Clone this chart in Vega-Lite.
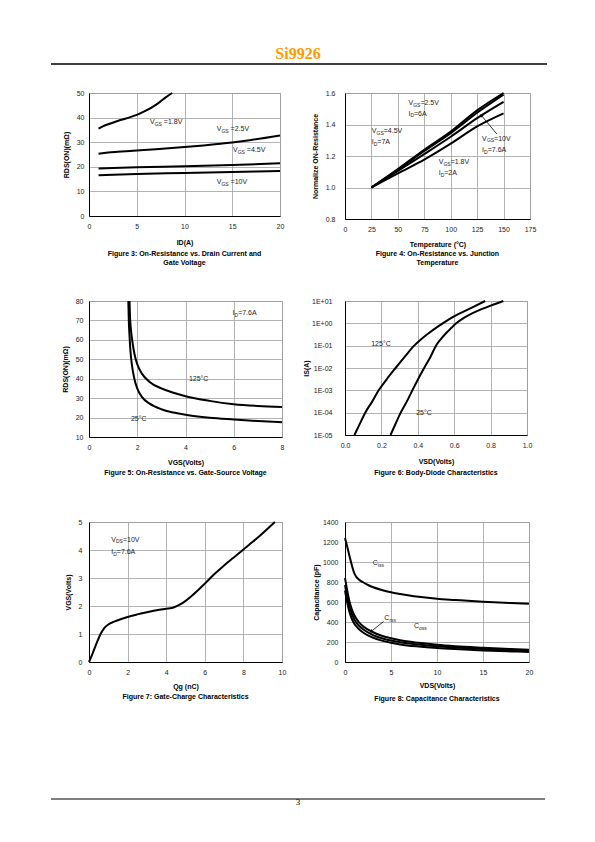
{
"$schema": "https://vega.github.io/schema/vega-lite/v6.json",
"padding": {"left": 50, "top": 44, "right": 5, "bottom": 5},
"background": "white",
"bounds": "flush",
"spacing": 0,
"columns": 4,
"align": "each",
"config": {
 "view": {"stroke": null},
 "font": "Liberation Sans",
 "axis": {"labelFont": "Liberation Sans", "labelFontSize": 7, "labelColor": "#222", "ticks": false, "domainColor": "#000", "domainWidth": 1, "gridColor": "#a0a0a0", "gridWidth": 0.8, "titleFont": "Liberation Sans", "titleFontSize": 7, "titleFontWeight": "bold", "titleColor": "#000", "labelFlush": false, "labelOverlap": false, "titleBaseline": "middle"},
 "axisX": {"labelPadding": 6},
 "axisY": {"labelPadding": 6},
 "title": {"font": "Liberation Sans", "fontSize": 7, "fontWeight": "bold", "color": "#000", "orient": "bottom", "anchor": "middle", "frame": "group", "lineHeight": 9.5, "offset": 3},
 "text": {"font": "Liberation Sans", "fontSize": 7, "fill": "#222", "align": "left", "baseline": "middle"},
 "line": {"stroke": "#000", "strokeWidth": 2, "interpolate": "monotone"}
},
"datasets": {
 "f3": [
  {"s":"1.8V","x":1,"y":35.5},{"s":"1.8V","x":1.5,"y":36.5},{"s":"1.8V","x":2,"y":37.3},{"s":"1.8V","x":3,"y":38.6},{"s":"1.8V","x":4,"y":39.8},{"s":"1.8V","x":5,"y":41.1},{"s":"1.8V","x":6,"y":42.9},{"s":"1.8V","x":7,"y":45.2},{"s":"1.8V","x":7.5,"y":46.6},{"s":"1.8V","x":8,"y":48.1},{"s":"1.8V","x":8.7,"y":50},
  {"s":"2.5V","x":1,"y":25.3},{"s":"2.5V","x":2,"y":25.8},{"s":"2.5V","x":3,"y":26.1},{"s":"2.5V","x":5,"y":26.6},{"s":"2.5V","x":7,"y":27.1},{"s":"2.5V","x":10,"y":28},{"s":"2.5V","x":12,"y":28.7},{"s":"2.5V","x":15,"y":29.9},{"s":"2.5V","x":17,"y":30.9},{"s":"2.5V","x":20,"y":32.7},
  {"s":"4.5V","x":1,"y":19.3},{"s":"4.5V","x":5,"y":19.8},{"s":"4.5V","x":10,"y":20.2},{"s":"4.5V","x":15,"y":20.7},{"s":"4.5V","x":20,"y":21.4},
  {"s":"10V","x":1,"y":16.6},{"s":"10V","x":5,"y":17.1},{"s":"10V","x":10,"y":17.5},{"s":"10V","x":15,"y":17.9},{"s":"10V","x":20,"y":18.3}
 ],
 "f3l": [
  {"x":6.38,"y":38.3,"a":"V","s":"GS","b":"=1.8V"},
  {"x":13.37,"y":35.4,"a":"V","s":"GS","b":"=2.5V"},
  {"x":15.07,"y":26.7,"a":"V","s":"GS","b":"=4.5V"},
  {"x":13.37,"y":13.7,"a":"V","s":"GS","b":"=10V"}
 ],
 "f4": [
  {"s":"2.5V","x":25,"y":1},{"s":"2.5V","x":50,"y":1.117},{"s":"2.5V","x":75,"y":1.24},{"s":"2.5V","x":100,"y":1.355},{"s":"2.5V","x":125,"y":1.49},{"s":"2.5V","x":150,"y":1.6},
  {"s":"4.5V","x":25,"y":1},{"s":"4.5V","x":50,"y":1.112},{"s":"4.5V","x":75,"y":1.232},{"s":"4.5V","x":100,"y":1.345},{"s":"4.5V","x":125,"y":1.475},{"s":"4.5V","x":150,"y":1.59},
  {"s":"10V","x":25,"y":1},{"s":"10V","x":50,"y":1.105},{"s":"10V","x":75,"y":1.212},{"s":"10V","x":100,"y":1.322},{"s":"10V","x":125,"y":1.44},{"s":"10V","x":150,"y":1.543},
  {"s":"1.8V","x":25,"y":1},{"s":"1.8V","x":50,"y":1.09},{"s":"1.8V","x":75,"y":1.177},{"s":"1.8V","x":100,"y":1.278},{"s":"1.8V","x":125,"y":1.388},{"s":"1.8V","x":150,"y":1.471}
 ],
 "f4l": [
  {"x":60,"y":1.537,"a":"V","s":"GS","b":"=2.5V"},
  {"x":60,"y":1.469,"a":"I","s":"D","b":"=6A"},
  {"x":25.3,"y":1.357,"a":"V","s":"GS","b":"=4.5V"},
  {"x":25.3,"y":1.287,"a":"I","s":"D","b":"=7A"},
  {"x":129.7,"y":1.31,"a":"V","s":"GS","b":"=10V"},
  {"x":129.7,"y":1.24,"a":"I","s":"D","b":"=7.6A"},
  {"x":88.6,"y":1.162,"a":"V","s":"GS","b":"=1.8V"},
  {"x":88.6,"y":1.092,"a":"I","s":"D","b":"=2A"}
 ],
 "f4a": [{"x":143.6,"y":1.34,"x2":129,"y2":1.458}],
 "f4h": [{"x":129,"y":1.458}],
 "f5": [
  {"s":"125","x":1.68,"y":80},{"s":"125","x":1.7,"y":72},{"s":"125","x":1.74,"y":65},{"s":"125","x":1.8,"y":59},{"s":"125","x":1.88,"y":53},{"s":"125","x":2,"y":47.5},{"s":"125","x":2.2,"y":42.5},{"s":"125","x":2.5,"y":38.5},{"s":"125","x":3,"y":35},{"s":"125","x":3.5,"y":32.8},{"s":"125","x":4,"y":31},{"s":"125","x":5,"y":28.6},{"s":"125","x":6,"y":26.9},{"s":"125","x":7,"y":26},{"s":"125","x":8,"y":25.5},
  {"s":"25","x":1.63,"y":80},{"s":"25","x":1.65,"y":70},{"s":"25","x":1.68,"y":62},{"s":"25","x":1.72,"y":54},{"s":"25","x":1.78,"y":47},{"s":"25","x":1.88,"y":40},{"s":"25","x":2,"y":35},{"s":"25","x":2.2,"y":30.5},{"s":"25","x":2.5,"y":27.3},{"s":"25","x":3,"y":24.3},{"s":"25","x":3.5,"y":22.6},{"s":"25","x":4,"y":21.4},{"s":"25","x":5,"y":19.9},{"s":"25","x":6,"y":19},{"s":"25","x":7,"y":18.2},{"s":"25","x":8,"y":17.6}
 ],
 "f5l": [
  {"x":5.95,"y":73.8,"a":"I","s":"D","b":"=7.6A"},
  {"x":4.14,"y":39.9,"a":"125°C","s":"","b":""},
  {"x":1.74,"y":19.3,"a":"25°C","s":"","b":""}
 ],
 "f6": [
  {"s":"125","x":0.052,"y":0.00001},{"s":"125","x":0.08,"y":0.00003},{"s":"125","x":0.111,"y":0.0001},{"s":"125","x":0.15,"y":0.00032},{"s":"125","x":0.185,"y":0.001},{"s":"125","x":0.23,"y":0.0032},{"s":"125","x":0.278,"y":0.01},{"s":"125","x":0.33,"y":0.033},{"s":"125","x":0.38,"y":0.1},{"s":"125","x":0.42,"y":0.2},{"s":"125","x":0.463,"y":0.38},{"s":"125","x":0.5,"y":0.63},{"s":"125","x":0.537,"y":1},{"s":"125","x":0.58,"y":1.66},{"s":"125","x":0.62,"y":2.5},{"s":"125","x":0.66,"y":3.6},{"s":"125","x":0.7,"y":5.2},{"s":"125","x":0.77,"y":10},
  {"s":"25","x":0.25,"y":0.00001},{"s":"25","x":0.278,"y":0.000032},{"s":"25","x":0.306,"y":0.0001},{"s":"25","x":0.34,"y":0.00032},{"s":"25","x":0.37,"y":0.001},{"s":"25","x":0.4,"y":0.003},{"s":"25","x":0.435,"y":0.01},{"s":"25","x":0.47,"y":0.032},{"s":"25","x":0.5,"y":0.1},{"s":"25","x":0.53,"y":0.21},{"s":"25","x":0.556,"y":0.37},{"s":"25","x":0.585,"y":0.63},{"s":"25","x":0.611,"y":1},{"s":"25","x":0.66,"y":1.9},{"s":"25","x":0.704,"y":2.95},{"s":"25","x":0.75,"y":4.3},{"s":"25","x":0.8,"y":6.2},{"s":"25","x":0.87,"y":10}
 ],
 "f6l": [
  {"x":0.144,"y":0.115,"a":"125°C"},
  {"x":0.391,"y":0.000093,"a":"25°C"}
 ],
 "f7": [
  {"x":0,"y":0},{"x":0.2,"y":0.33},{"x":0.4,"y":0.68},{"x":0.6,"y":1.0},{"x":0.8,"y":1.22},{"x":1.0,"y":1.34},{"x":1.3,"y":1.44},{"x":1.6,"y":1.52},{"x":2,"y":1.61},{"x":2.5,"y":1.7},{"x":3,"y":1.78},{"x":3.5,"y":1.85},{"x":4,"y":1.9},{"x":4.3,"y":1.93},{"x":4.6,"y":2.01},{"x":4.9,"y":2.13},{"x":5.3,"y":2.35},{"x":5.7,"y":2.6},{"x":6,"y":2.8},{"x":6.5,"y":3.14},{"x":7,"y":3.45},{"x":7.5,"y":3.73},{"x":8,"y":4.02},{"x":8.5,"y":4.3},{"x":9,"y":4.6},{"x":9.63,"y":5}
 ],
 "f7l": [
  {"x":1.15,"y":4.37,"a":"V","s":"DS","b":"=10V"},
  {"x":1.15,"y":3.93,"a":"I","s":"D","b":"=7.6A"}
 ],
 "f8": [
  {"s":"Ciss","x":0,"y":1240},{"s":"Ciss","x":0.25,"y":1150},{"s":"Ciss","x":0.5,"y":1055},{"s":"Ciss","x":0.75,"y":965},{"s":"Ciss","x":1,"y":890},{"s":"Ciss","x":1.25,"y":848},{"s":"Ciss","x":1.5,"y":825},{"s":"Ciss","x":2,"y":795},{"s":"Ciss","x":2.5,"y":770},{"s":"Ciss","x":3,"y":750},{"s":"Ciss","x":4,"y":720},{"s":"Ciss","x":5,"y":697},{"s":"Ciss","x":6,"y":680},{"s":"Ciss","x":7,"y":665},{"s":"Ciss","x":8,"y":652},{"s":"Ciss","x":10,"y":632},{"s":"Ciss","x":12,"y":620},{"s":"Ciss","x":15,"y":603},{"s":"Ciss","x":18,"y":590},{"s":"Ciss","x":20,"y":583},
  {"s":"A","x":0,"y":840},{"s":"A","x":0.25,"y":710},{"s":"A","x":0.5,"y":600},{"s":"A","x":0.75,"y":525},{"s":"A","x":1,"y":470},{"s":"A","x":1.5,"y":400},{"s":"A","x":2,"y":355},{"s":"A","x":3,"y":300},{"s":"A","x":4,"y":262},{"s":"A","x":5,"y":238},{"s":"A","x":6,"y":218},{"s":"A","x":8,"y":192},{"s":"A","x":10,"y":172},{"s":"A","x":12,"y":158},{"s":"A","x":15,"y":143},{"s":"A","x":18,"y":130},{"s":"A","x":20,"y":123},
  {"s":"B","x":0,"y":770},{"s":"B","x":0.25,"y":645},{"s":"B","x":0.5,"y":548},{"s":"B","x":0.75,"y":478},{"s":"B","x":1,"y":428},{"s":"B","x":1.5,"y":365},{"s":"B","x":2,"y":325},{"s":"B","x":3,"y":272},{"s":"B","x":4,"y":238},{"s":"B","x":5,"y":214},{"s":"B","x":6,"y":197},{"s":"B","x":8,"y":174},{"s":"B","x":10,"y":157},{"s":"B","x":12,"y":145},{"s":"B","x":15,"y":130},{"s":"B","x":18,"y":118},{"s":"B","x":20,"y":111},
  {"s":"C","x":0,"y":715},{"s":"C","x":0.25,"y":590},{"s":"C","x":0.5,"y":495},{"s":"C","x":0.75,"y":430},{"s":"C","x":1,"y":385},{"s":"C","x":1.5,"y":330},{"s":"C","x":2,"y":292},{"s":"C","x":3,"y":245},{"s":"C","x":4,"y":214},{"s":"C","x":5,"y":192},{"s":"C","x":6,"y":176},{"s":"C","x":8,"y":155},{"s":"C","x":10,"y":140},{"s":"C","x":12,"y":129},{"s":"C","x":15,"y":116},{"s":"C","x":18,"y":106},{"s":"C","x":20,"y":100}
 ],
 "f8l": [
  {"x":3.01,"y":990,"a":"C","s":"iss"},
  {"x":4.27,"y":440,"a":"C","s":"rss"},
  {"x":7.49,"y":356,"a":"C","s":"oss"}
 ],
 "f8a": [{"x":4.2,"y":405,"x2":2.83,"y2":305}],
 "f8h": [{"x":2.83,"y":305}]
},
"concat": [
 {"width": 38, "height": 20, "data": {"values": [{"v": 0}]}, "mark": {"type": "rule", "stroke": "#000", "strokeWidth": 1.3}, "encoding": {"y": {"field": "v", "type": "quantitative", "scale": {"domain": [0, 1]}, "axis": null}}},
 {"width": 193, "height": 20, "data": {"values": [{"v": 0}]}, "mark": {"type": "rule", "stroke": "#000", "strokeWidth": 1.3}, "encoding": {"y": {"field": "v", "type": "quantitative", "scale": {"domain": [0, 1]}, "axis": null}}},
 {"width": 63, "height": 20, "layer": [
   {"data": {"values": [{"v": 0}]}, "mark": {"type": "rule", "stroke": "#000", "strokeWidth": 1.3}, "encoding": {"y": {"field": "v", "type": "quantitative", "scale": {"domain": [0, 1]}, "axis": null}}},
   {"data": {"values": [{"t": "Si9926"}]}, "mark": {"type": "text", "font": "Liberation Serif", "fontSize": 16, "fontWeight": "bold", "fill": "#ff9900", "align": "center", "baseline": "alphabetic", "dx": -15.5, "dy": 5}, "encoding": {"text": {"field": "t"}}}
 ]},
 {"width": 202, "height": 20, "data": {"values": [{"v": 0}]}, "mark": {"type": "rule", "stroke": "#000", "strokeWidth": 1.3}, "encoding": {"y": {"field": "v", "type": "quantitative", "scale": {"domain": [0, 1]}, "axis": null}}},

 {"width": 1, "height": 29, "data": {"values": []}, "mark": "point"},
 {"width": 1, "height": 1, "data": {"values": []}, "mark": "point"},
 {"width": 1, "height": 1, "data": {"values": []}, "mark": "point"},
 {"width": 1, "height": 1, "data": {"values": []}, "mark": "point"},

 {"width": 1, "height": 1, "data": {"values": []}, "mark": "point"},
 {"width": 191, "height": 123, "view": {"stroke": "#a0a0a0"},
  "title": {"text": ["Figure 3: On-Resistance vs. Drain Current and", "Gate Voltage"], "offset": 4.5},
  "encoding": {
   "x": {"field": "x", "type": "quantitative", "scale": {"domain": [0, 20], "nice": false}, "axis": {"values": [0, 5, 10, 15, 20], "title": "ID(A)", "titleY": 26}},
   "y": {"field": "y", "type": "quantitative", "scale": {"domain": [0, 50], "nice": false}, "axis": {"values": [0, 10, 20, 30, 40, 50], "title": "RDS(ON)(mΩ)", "titleX": -22.7, "labelPadding": 5}}
  },
  "layer": [
   {"data": {"name": "f3"}, "mark": "line", "encoding": {"detail": {"field": "s"}}},
   {"data": {"name": "f3l"}, "mark": {"type": "text"}, "encoding": {"text": {"field": "a"}}},
   {"data": {"name": "f3l"}, "mark": {"type": "text", "fontSize": 5, "dx": 4.8, "dy": 1.8}, "encoding": {"text": {"field": "s"}}},
   {"data": {"name": "f3l"}, "mark": {"type": "text", "dx": 13.9}, "encoding": {"text": {"field": "b"}}}
  ]},
 {"width": 1, "height": 1, "data": {"values": []}, "mark": "point"},
 {"width": 185, "height": 126, "view": {"stroke": "#a0a0a0"},
  "title": {"text": ["Figure 4: On-Resistance vs. Junction", "Temperature"], "offset": 2.5},
  "encoding": {
   "x": {"field": "x", "type": "quantitative", "scale": {"domain": [0, 175], "nice": false}, "axis": {"values": [0, 25, 50, 75, 100, 125, 150, 175], "title": "Temperature (°C)", "titleY": 25.3}},
   "y": {"field": "y", "type": "quantitative", "scale": {"domain": [0.8, 1.6], "nice": false, "zero": false}, "axis": {"values": [0.8, 1.0, 1.2, 1.4, 1.6], "format": ".1f", "title": "Normalize ON-Resistance", "titleX": -30, "labelPadding": 10}}
  },
  "layer": [
   {"data": {"name": "f4"}, "mark": "line", "encoding": {"detail": {"field": "s"}}},
   {"data": {"name": "f4a"}, "mark": {"type": "rule", "stroke": "#000", "strokeWidth": 0.8}, "encoding": {"x2": {"field": "x2"}, "y2": {"field": "y2"}}},
   {"data": {"name": "f4h"}, "mark": {"type": "point", "shape": "triangle-up", "filled": true, "fill": "#000", "opacity": 1, "size": 14, "angle": 321}, "encoding": {}},
   {"data": {"name": "f4l"}, "mark": {"type": "text"}, "encoding": {"text": {"field": "a"}}},
   {"data": {"name": "f4l"}, "transform": [{"filter": "datum.a == 'I'"}], "mark": {"type": "text", "fontSize": 5, "dx": 2, "dy": 1.8}, "encoding": {"text": {"field": "s"}}},
   {"data": {"name": "f4l"}, "transform": [{"filter": "datum.a != 'I'"}], "mark": {"type": "text", "fontSize": 5, "dx": 4.8, "dy": 1.8}, "encoding": {"text": {"field": "s"}}},
   {"data": {"name": "f4l"}, "transform": [{"filter": "datum.a == 'I'"}], "mark": {"type": "text", "dx": 5.6}, "encoding": {"text": {"field": "b"}}},
   {"data": {"name": "f4l"}, "transform": [{"filter": "datum.a != 'I'"}], "mark": {"type": "text", "dx": 12}, "encoding": {"text": {"field": "b"}}}
  ]},

 {"width": 1, "height": 82, "data": {"values": []}, "mark": "point"},
 {"width": 1, "height": 1, "data": {"values": []}, "mark": "point"},
 {"width": 1, "height": 1, "data": {"values": []}, "mark": "point"},
 {"width": 1, "height": 1, "data": {"values": []}, "mark": "point"},

 {"width": 1, "height": 1, "data": {"values": []}, "mark": "point"},
 {"width": 193, "height": 136, "view": {"stroke": "#a0a0a0"},
  "title": {"text": "Figure 5: On-Resistance vs. Gate-Source Voltage", "offset": 3},
  "encoding": {
   "x": {"field": "x", "type": "quantitative", "scale": {"domain": [0, 8], "nice": false}, "axis": {"values": [0, 2, 4, 6, 8], "title": "VGS(Volts)", "titleY": 25.7}},
   "y": {"field": "y", "type": "quantitative", "scale": {"domain": [10, 80], "nice": false, "zero": false}, "axis": {"values": [10, 20, 30, 40, 50, 60, 70, 80], "title": "RDS(ON)(mΩ)", "titleX": -24, "labelPadding": 6}}
  },
  "layer": [
   {"data": {"name": "f5"}, "mark": "line", "encoding": {"detail": {"field": "s"}}},
   {"data": {"name": "f5l"}, "mark": {"type": "text"}, "encoding": {"text": {"field": "a"}}},
   {"data": {"name": "f5l"}, "transform": [{"filter": "datum.a == 'I'"}], "mark": {"type": "text", "fontSize": 5, "dx": 2, "dy": 1.8}, "encoding": {"text": {"field": "s"}}},
   {"data": {"name": "f5l"}, "transform": [{"filter": "datum.a == 'I'"}], "mark": {"type": "text", "dx": 5.6}, "encoding": {"text": {"field": "b"}}}
  ]},
 {"width": 1, "height": 1, "data": {"values": []}, "mark": "point"},
 {"width": 182, "height": 134, "view": {"stroke": "#a0a0a0"},
  "title": {"text": "Figure 6: Body-Diode Characteristics", "offset": 4},
  "encoding": {
   "x": {"field": "x", "type": "quantitative", "scale": {"domain": [0, 1], "nice": false}, "axis": {"values": [0, 0.2, 0.4, 0.6, 0.8, 1.0], "format": ".1f", "title": "VSD(Volts)", "titleY": 26.7}},
   "y": {"field": "y", "type": "quantitative", "scale": {"type": "log", "domain": [0.00001, 10], "nice": false}, "axis": {"values": [0.00001, 0.0001, 0.001, 0.01, 0.1, 1, 10], "labelExpr": "'1E' + (datum.value >= 1 ? '+0' : '-0') + round(abs(log(datum.value) / LN10))", "title": "IS(A)", "titleX": -39, "labelPadding": 13}}
  },
  "layer": [
   {"data": {"name": "f6"}, "mark": "line", "encoding": {"detail": {"field": "s"}}},
   {"data": {"name": "f6l"}, "mark": {"type": "text"}, "encoding": {"text": {"field": "a"}}}
  ]},

 {"width": 1, "height": 85, "data": {"values": []}, "mark": "point"},
 {"width": 1, "height": 1, "data": {"values": []}, "mark": "point"},
 {"width": 1, "height": 1, "data": {"values": []}, "mark": "point"},
 {"width": 1, "height": 1, "data": {"values": []}, "mark": "point"},

 {"width": 1, "height": 1, "data": {"values": []}, "mark": "point"},
 {"width": 193, "height": 140, "view": {"stroke": "#a0a0a0"},
  "title": {"text": "Figure 7: Gate-Charge Characteristics", "offset": 3},
  "encoding": {
   "x": {"field": "x", "type": "quantitative", "scale": {"domain": [0, 10], "nice": false}, "axis": {"values": [0, 2, 4, 6, 8, 10], "title": "Qg (nC)", "titleY": 24.7}},
   "y": {"field": "y", "type": "quantitative", "scale": {"domain": [0, 5], "nice": false}, "axis": {"values": [0, 1, 2, 3, 4, 5], "title": "VGS(Volts)", "titleX": -21, "labelPadding": 7}}
  },
  "layer": [
   {"data": {"name": "f7"}, "mark": "line"},
   {"data": {"name": "f7l"}, "mark": {"type": "text"}, "encoding": {"text": {"field": "a"}}},
   {"data": {"name": "f7l"}, "transform": [{"filter": "datum.a == 'I'"}], "mark": {"type": "text", "fontSize": 5, "dx": 2, "dy": 1.8}, "encoding": {"text": {"field": "s"}}},
   {"data": {"name": "f7l"}, "transform": [{"filter": "datum.a != 'I'"}], "mark": {"type": "text", "fontSize": 5, "dx": 4.8, "dy": 1.8}, "encoding": {"text": {"field": "s"}}},
   {"data": {"name": "f7l"}, "transform": [{"filter": "datum.a == 'I'"}], "mark": {"type": "text", "dx": 5.6}, "encoding": {"text": {"field": "b"}}},
   {"data": {"name": "f7l"}, "transform": [{"filter": "datum.a != 'I'"}], "mark": {"type": "text", "dx": 11.7}, "encoding": {"text": {"field": "b"}}}
  ]},
 {"width": 1, "height": 1, "data": {"values": []}, "mark": "point"},
 {"width": 184, "height": 140, "view": {"stroke": "#a0a0a0"},
  "title": {"text": "Figure 8: Capacitance Characteristics", "offset": 6.5},
  "encoding": {
   "x": {"field": "x", "type": "quantitative", "scale": {"domain": [0, 20], "nice": false}, "axis": {"values": [0, 5, 10, 15, 20], "title": "VDS(Volts)", "titleY": 23.3}},
   "y": {"field": "y", "type": "quantitative", "scale": {"domain": [0, 1400], "nice": false}, "axis": {"values": [0, 200, 400, 600, 800, 1000, 1200, 1400], "format": "d", "title": "Capacitance (pF)", "titleX": -28.7, "labelPadding": 7}}
  },
  "layer": [
   {"data": {"name": "f8"}, "mark": "line", "encoding": {"detail": {"field": "s"}}},
   {"data": {"name": "f8a"}, "mark": {"type": "rule", "stroke": "#000", "strokeWidth": 0.8}, "encoding": {"x2": {"field": "x2"}, "y2": {"field": "y2"}}},
   {"data": {"name": "f8h"}, "mark": {"type": "point", "shape": "triangle-up", "filled": true, "fill": "#000", "opacity": 1, "size": 14, "angle": 233}, "encoding": {}},
   {"data": {"name": "f8l"}, "mark": {"type": "text"}, "encoding": {"text": {"field": "a"}}},
   {"data": {"name": "f8l"}, "mark": {"type": "text", "fontSize": 5, "dx": 5.1, "dy": 1.8}, "encoding": {"text": {"field": "s"}}}
  ]},

 {"width": 1, "height": 137, "data": {"values": []}, "mark": "point"},
 {"width": 1, "height": 1, "data": {"values": []}, "mark": "point"},
 {"width": 1, "height": 1, "data": {"values": []}, "mark": "point"},
 {"width": 1, "height": 1, "data": {"values": []}, "mark": "point"},

 {"width": 38, "height": 10, "data": {"values": [{"v": 1}]}, "mark": {"type": "rule", "stroke": "#000", "strokeWidth": 1.2}, "encoding": {"y": {"field": "v", "type": "quantitative", "scale": {"domain": [0, 1]}, "axis": null}}},
 {"width": 193, "height": 10, "data": {"values": [{"v": 1}]}, "mark": {"type": "rule", "stroke": "#000", "strokeWidth": 1.2}, "encoding": {"y": {"field": "v", "type": "quantitative", "scale": {"domain": [0, 1]}, "axis": null}}},
 {"width": 63, "height": 10, "layer": [
   {"data": {"values": [{"v": 1}]}, "mark": {"type": "rule", "stroke": "#000", "strokeWidth": 1.2}, "encoding": {"y": {"field": "v", "type": "quantitative", "scale": {"domain": [0, 1]}, "axis": null}}},
   {"data": {"values": [{"t": "3"}]}, "mark": {"type": "text", "font": "Liberation Serif", "fontSize": 9, "fill": "#000", "align": "center", "baseline": "alphabetic", "dx": -15.5, "dy": 1}, "encoding": {"text": {"field": "t"}}}
 ]},
 {"width": 200, "height": 10, "data": {"values": [{"v": 1}]}, "mark": {"type": "rule", "stroke": "#000", "strokeWidth": 1.2}, "encoding": {"y": {"field": "v", "type": "quantitative", "scale": {"domain": [0, 1]}, "axis": null}}}
]
}
